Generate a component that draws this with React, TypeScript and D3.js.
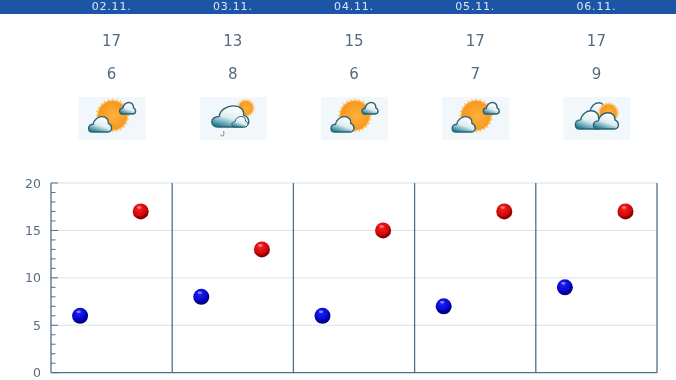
import React from "react";
import * as d3 from "d3";

const days = ["02.11.", "03.11.", "04.11.", "05.11.", "06.11."];
const highs = [17, 13, 15, 17, 17];
const lows = [6, 8, 6, 7, 9];
const icons = ["sun", "rain", "sun", "sun", "cloud"];
const majorTicks = [0, 5, 10, 15, 20];
const minorTicks = d3.range(0, 21);

const W = 676, H = 380;
const plot = { l: 51, r: 657, t: 183, b: 372.7 };
const x = d3.scaleBand<string>().domain(days).range([plot.l, plot.r]);
const y = d3.scaleLinear().domain([0, 20]).range([plot.b, plot.t]);
const AX = "#4d6f90";
const TXT = "#566b80";

const CLOUD = "M16,100 C5,100 0,88 0,76 C0,62 9,52 20,52 C22,22 42,4 58,4 C76,4 88,22 86,46 C96,52 100,64 100,76 C100,90 92,100 82,100 Z";

function Cloud({ l, t, w, h, sw = 1.4 }: { l: number; t: number; w: number; h: number; sw?: number }) {
  return (
    <path
      transform={`translate(${l},${t}) scale(${w / 100},${h / 100})`}
      d={CLOUD}
      fill="url(#cloudG)"
      stroke="#2a6274"
      strokeWidth={sw}
      vectorEffect="non-scaling-stroke"
      strokeLinejoin="round"
    />
  );
}

function Sun({ cx, cy, r }: { cx: number; cy: number; r: number }) {
  const n = 24;
  const pts = d3.range(n * 2).map((i) => {
    const a = (i / (n * 2)) * Math.PI * 2;
    const rr = i % 2 ? r - 1 : r + 1.2;
    return [cx + rr * Math.cos(a), cy + rr * Math.sin(a)] as [number, number];
  });
  return (
    <g>
      <polygon points={pts.map((p) => p.join(",")).join(" ")} fill="#fbc670" />
      <circle cx={cx} cy={cy} r={r - 1.5} fill="url(#sunG)" />
    </g>
  );
}

function Icon({ kind, cx }: { kind: string; cx: number }) {
  const ox = cx - 33;
  return (
    <g transform={`translate(${ox},97)`}>
      <rect x={0} y={0} width={67} height={43} fill="#f1f7fb" />
      {kind === "sun" && (
        <g>
          <Sun cx={34} cy={18.5} r={16} />
          <Cloud l={41} t={5} w={16} h={12} />
          <Cloud l={10} t={19} w={23} h={16} />
        </g>
      )}
      {kind === "rain" && (
        <g>
          <Sun cx={46} cy={11} r={8.5} />
          <Cloud l={12} t={8} w={37} h={22} />
          <Cloud l={32} t={19} w={16} h={11} sw={1} />
          <path d="M24,34 l0,3.5 a1.5,1.5 0 0 1 -3,0" fill="none" stroke="#778" strokeWidth={0.9} />
        </g>
      )}
      {kind === "cloud" && (
        <g>
          <Cloud l={22} t={5} w={23} h={20} />
          <Sun cx={45} cy={16} r={10} />
          <Cloud l={12} t={13} w={27} h={19} />
          <Cloud l={30} t={15} w={25} h={17} />
        </g>
      )}
    </g>
  );
}

function Ball({ cx, cy, color }: { cx: number; cy: number; color: string }) {
  return (
    <g>
      <circle cx={cx} cy={cy} r={8} fill={`url(#${color})`} />
      <ellipse cx={cx - 1.5} cy={cy - 4} rx={2.2} ry={1.3} fill="#fff" opacity={0.45} />
    </g>
  );
}

export default function App() {
  const bw = x.bandwidth();
  return (
    <svg width={W} height={H} style={{ position: "absolute", left: 0, top: 0, background: "#fff" }} fontFamily="'DejaVu Sans', sans-serif">
      <defs>
        <radialGradient id="redB" cx="42%" cy="32%" r="70%">
          <stop offset="0%" stopColor="#f22" />
          <stop offset="60%" stopColor="#d00808" />
          <stop offset="100%" stopColor="#6a0000" />
        </radialGradient>
        <radialGradient id="blueB" cx="42%" cy="32%" r="70%">
          <stop offset="0%" stopColor="#22f" />
          <stop offset="60%" stopColor="#0606c8" />
          <stop offset="100%" stopColor="#000060" />
        </radialGradient>
        <radialGradient id="sunG" cx="55%" cy="50%" r="55%">
          <stop offset="0%" stopColor="#fdb23a" />
          <stop offset="100%" stopColor="#f7941e" />
        </radialGradient>
        <linearGradient id="cloudG" x1="0.65" y1="0.1" x2="0.2" y2="1">
          <stop offset="0%" stopColor="#fff" />
          <stop offset="50%" stopColor="#dcecf1" />
          <stop offset="100%" stopColor="#12768c" />
        </linearGradient>
        <filter id="soft" x="-5%" y="-5%" width="110%" height="110%">
          <feGaussianBlur stdDeviation="0.45" />
        </filter>
      </defs>
      <g filter="url(#soft)">
        <rect x={0} y={-5} width={W} height={19} fill="#1a55a6" />
        {days.map((d, i) => {
          const cx = (x(d) as number) + bw / 2;
          return (
            <g key={d}>
              <text x={cx} y={10} textAnchor="middle" fontSize={11} letterSpacing={0.8} fill="#dbe6f4">{d}</text>
              <text x={cx} y={45.5} textAnchor="middle" fontSize={15} fill={TXT}>{highs[i]}</text>
              <text x={cx} y={78.5} textAnchor="middle" fontSize={15} fill={TXT}>{lows[i]}</text>
              <Icon kind={icons[i]} cx={cx} />
            </g>
          );
        })}

        {majorTicks.filter((t) => t > 0).map((t) => (
          <line key={t} x1={plot.l} x2={plot.r} y1={y(t)} y2={y(t)} stroke="#dce2e7" strokeWidth={1} />
        ))}
        {minorTicks.map((t) => (
          <line key={t} x1={plot.l} x2={plot.l + (t % 5 === 0 ? 7 : 4.5)} y1={y(t)} y2={y(t)} stroke={AX} strokeWidth={1} />
        ))}
        <line x1={plot.l} x2={plot.l} y1={plot.t} y2={plot.b} stroke={AX} strokeWidth={1.3} />
        <line x1={plot.l} x2={plot.r} y1={plot.b} y2={plot.b} stroke={AX} strokeWidth={1.3} />
        {days.map((d) => {
          const xr = (x(d) as number) + bw;
          return <line key={d} x1={xr} x2={xr} y1={plot.t} y2={plot.b} stroke={AX} strokeWidth={1.3} />;
        })}
        {majorTicks.map((t) => (
          <text key={t} x={41} y={y(t) + 4.5} textAnchor="end" fontSize={12.5} fill={TXT}>{t}</text>
        ))}
        {days.map((d, i) => (
          <g key={d}>
            <Ball cx={(x(d) as number) + bw * 0.24} cy={y(lows[i])} color="blueB" />
            <Ball cx={(x(d) as number) + bw * 0.74} cy={y(highs[i])} color="redB" />
          </g>
        ))}
      </g>
    </svg>
  );
}
